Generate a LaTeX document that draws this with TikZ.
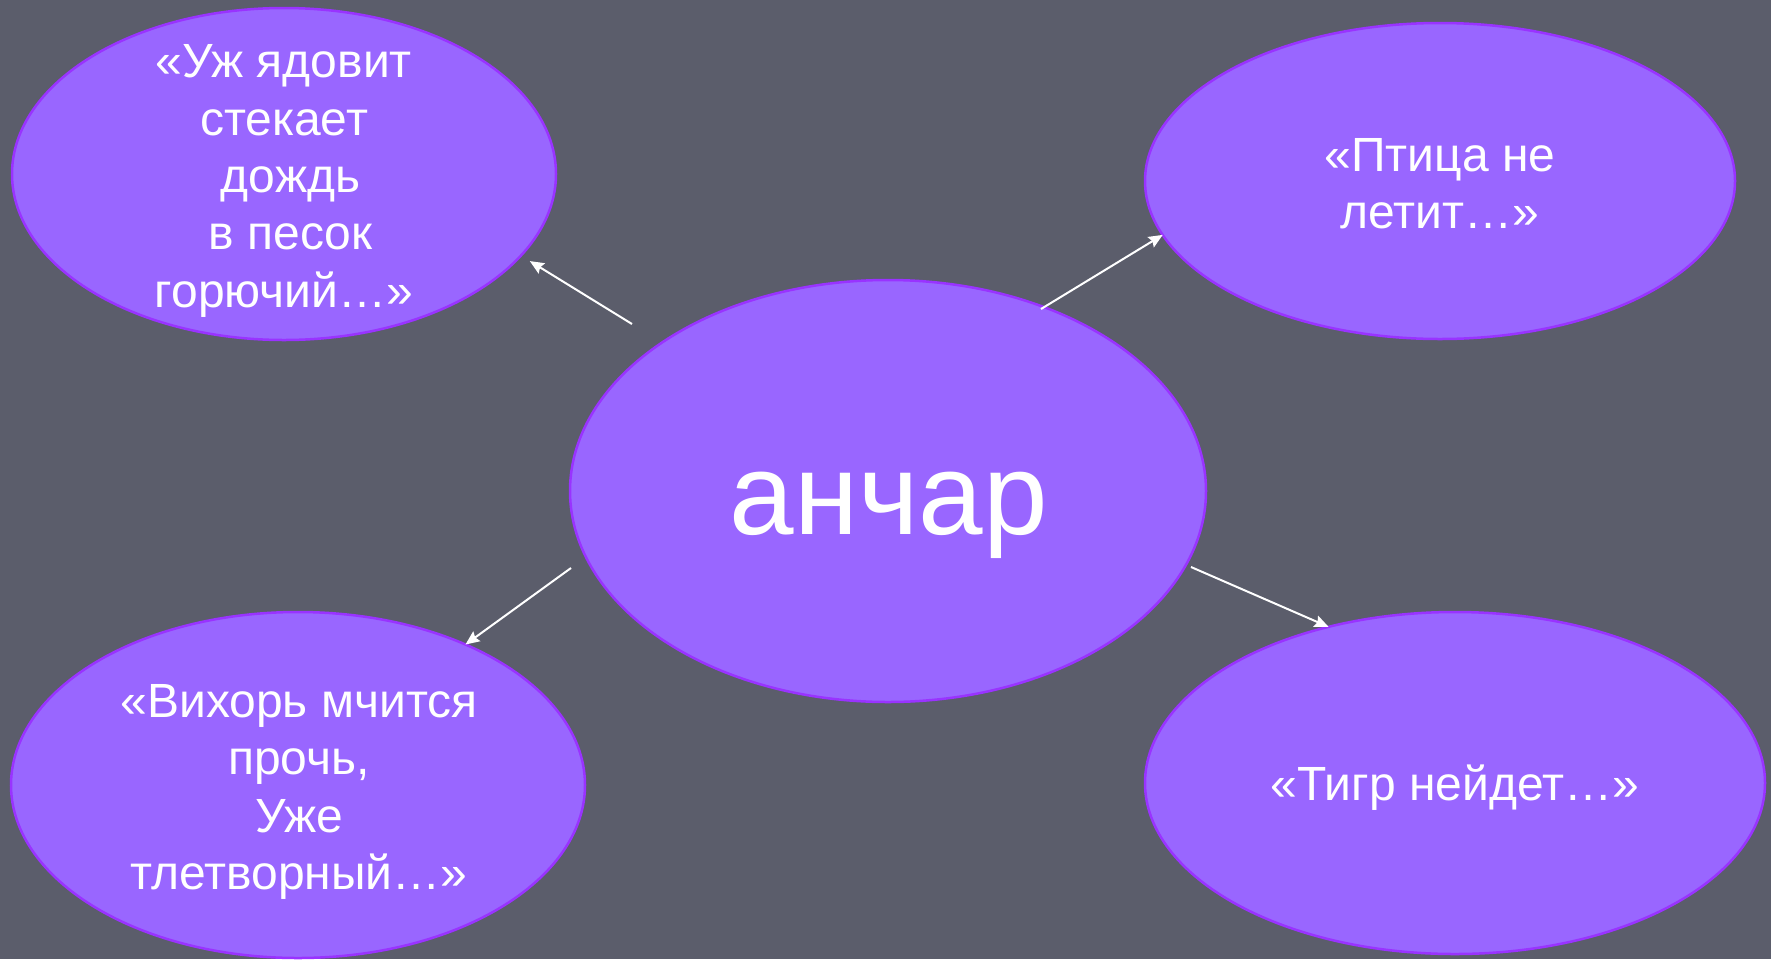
\documentclass[tikz,border=0pt]{standalone}
\usepackage{fontspec}
\setmainfont{Liberation Sans}
\usetikzlibrary{arrows.meta,shapes.geometric}
\definecolor{bg}{RGB}{91,93,107}
\definecolor{blobfill}{HTML}{9966FF}
\definecolor{blobline}{HTML}{9933FF}
\begin{document}
\begin{tikzpicture}[x=1pt,y=-1pt,
  blob/.style={ellipse, fill=blobfill, draw=blobline, line width=2.5pt, inner sep=0pt, outer sep=0pt},
  txt/.style={text=white, align=center, font=\fontsize{48}{57.3}\selectfont, inner sep=0pt},
  big/.style={text=white, font=\fontsize{116}{130}\selectfont, inner sep=0pt},
  arr/.style={draw=white, line width=2pt, -{Stealth[length=14pt,width=12pt,inset=2pt]}}]
\fill[bg] (0,0) rectangle (1771,959);
\useasboundingbox (0,0) rectangle (1771,959);
% ellipses
\node[blob, minimum width=544pt, minimum height=332pt] (tl) at (284,174) {};
\node[blob, minimum width=590pt, minimum height=316pt] (tr) at (1440,181) {};
\node[blob, minimum width=636pt, minimum height=422pt] (c) at (888,491) {};
\node[blob, minimum width=574pt, minimum height=346pt] (bl) at (298,785) {};
\node[blob, minimum width=620pt, minimum height=342pt] (br) at (1455,783) {};
% texts
\node[txt] (tltext) at (284,181) {«Уж ядовит\\стекает\\\hspace*{13pt}дождь\\\hspace*{13pt}в песок\\горючий…»};
\node[txt] (trtext) at (1440,184) {«Птица не\\летит…»};
\node[big, anchor=base] (ctext) at (889,534) {анчар};
\node[txt] (bltext) at (299,792) {«Вихорь мчится\\прочь,\\Уже\\тлетворный…»};
\node[txt] (brtext) at (1455,788) {«Тигр нейдет…»};
% arrow tails
\coordinate (t1) at (632,324);
\coordinate (t2) at (1041,309);
\coordinate (t3) at (571,568);
\coordinate (t4) at (1191,567);
\draw[arr, shorten >=10.5pt] (t1) -- (tl.-19.9);
\draw[arr] (t2) -- (tr.191);
\draw[arr] (t3) -- (bl.40.4);
\draw[arr] (t4) -- (br.129.4);
\end{tikzpicture}
\end{document}
